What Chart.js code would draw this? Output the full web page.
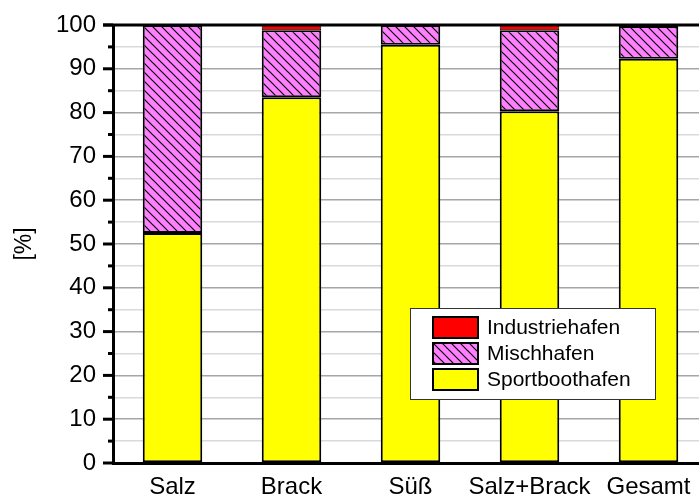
<!DOCTYPE html>
<html>
<head>
<meta charset="utf-8">
<script src="https://cdn.jsdelivr.net/npm/chart.js@4"></script>
<style>
  html, body { margin: 0; padding: 0; background: #fff; overflow: hidden; }
  #wrap { width: 710px; height: 496px; }
</style>
</head>
<body>
<div id="wrap"><canvas id="hafen_chart"></canvas></div>
<script>
// Daten
const categories = ['Salz', 'Brack', 'Süß', 'Salz+Brack', 'Gesamt'];
const sportboothafen = [52.5, 83.5, 95.5, 80.3, 92.3];
const mischhafen = [47.5, 15.3, 4.5, 18.5, 7.5];
const industriehafen = [0, 1.2, 0, 1.2, 0.2];
const yTicks = [0, 10, 20, 30, 40, 50, 60, 70, 80, 90, 100];

// Schraffur für Mischhafen
function hatch() {
  const s = 9;
  const c = document.createElement('canvas');
  c.width = s; c.height = s;
  const g = c.getContext('2d');
  g.fillStyle = '#ff80ff';
  g.fillRect(0, 0, s, s);
  g.strokeStyle = '#000';
  g.lineWidth = 1.2;
  g.beginPath();
  g.moveTo(-1, -1); g.lineTo(s + 1, s + 1);
  g.moveTo(s - 2, -2); g.lineTo(s + 2, 2);
  g.moveTo(-2, s - 2); g.lineTo(2, s + 2);
  g.stroke();
  return g.createPattern(c, 'repeat');
}
const mischFill = hatch();

Chart.defaults.font.family = "'Liberation Sans', Arial, sans-serif";
Chart.defaults.color = '#000';

// Achsenstriche, oberer Rahmen und Legende
const frame = {
  id: 'frame',
  afterDraw(chart) {
    const ctx = chart.ctx;
    const a = chart.chartArea;
    const y = chart.scales.y;
    ctx.save();
    ctx.strokeStyle = '#000';
    ctx.lineWidth = 3;
    y.ticks.forEach(t => {
      const py = y.getPixelForValue(t.value);
      const len = t.value % 10 === 0 ? 10 : 5;
      ctx.beginPath();
      ctx.moveTo(a.left - len, py);
      ctx.lineTo(a.left, py);
      ctx.stroke();
    });
    ctx.beginPath();
    ctx.moveTo(a.left - 10, a.top);
    ctx.lineTo(a.right, a.top);
    ctx.stroke();

    // Legende
    const bx = 410, by = 308, bw = 245, bh = 91;
    ctx.fillStyle = '#fff';
    ctx.fillRect(bx, by, bw, bh);
    ctx.lineWidth = 1;
    ctx.strokeStyle = '#333';
    ctx.strokeRect(bx + 0.5, by + 0.5, bw, bh);
    const ds = chart.data.datasets.slice().reverse();
    ctx.font = "21px 'Liberation Sans', Arial, sans-serif";
    ctx.textBaseline = 'middle';
    ds.forEach((d, i) => {
      const sy = by + 8 + i * 26;
      ctx.fillStyle = d.backgroundColor;
      ctx.fillRect(bx + 22, sy, 47, 23);
      ctx.lineWidth = 2;
      ctx.strokeStyle = '#000';
      ctx.strokeRect(bx + 23, sy + 1, 45, 21);
      ctx.fillStyle = '#000';
      ctx.fillText(d.label, bx + 77, sy + 12);
    });
    ctx.restore();
  }
};

new Chart(document.getElementById('hafen_chart'), {
  type: 'bar',
  data: {
    labels: categories,
    datasets: [
      { label: 'Sportboothafen', data: sportboothafen, backgroundColor: '#ffff00', borderColor: '#000', borderWidth: 2 },
      { label: 'Mischhafen', data: mischhafen, backgroundColor: mischFill, borderColor: '#000', borderWidth: 2 },
      { label: 'Industriehafen', data: industriehafen, backgroundColor: '#ff0000', borderColor: '#000', borderWidth: 1 }
    ]
  },
  plugins: [frame],
  options: {
    responsive: true,
    maintainAspectRatio: false,
    animation: false,
    layout: { padding: { left: 0, right: 2, top: 25, bottom: 0 } },
    datasets: { bar: { barPercentage: 0.5, categoryPercentage: 1, borderSkipped: false } },
    plugins: { legend: { display: false }, tooltip: { enabled: false } },
    scales: {
      x: {
        stacked: true,
        grid: { display: false },
        border: { color: '#000', width: 3 },
        ticks: { font: { size: 24 }, padding: 2, maxRotation: 0, autoSkip: false },
        afterFit: (s) => { s.height = 33; }
      },
      y: {
        stacked: true,
        min: 0,
        max: 100,
        ticks: {
          stepSize: 5,
          autoSkip: false,
          font: { size: 24 },
          padding: 17,
          callback: (v) => yTicks.includes(v) ? v : ''
        },
        grid: {
          drawTicks: false,
          color: (c) => c.tick.value % 10 === 0 ? '#a6a6a6' : '#d9d9d9',
          lineWidth: 1.5
        },
        border: { color: '#000', width: 3 },
        title: { display: true, text: '[%]', font: { size: 23 }, padding: { top: 11, bottom: 0 } },
        afterFit: (s) => { s.width = 113; s.paddingTop = 0; s.paddingBottom = 0; }
      }
    }
  }
});
</script>
</body>
</html>
